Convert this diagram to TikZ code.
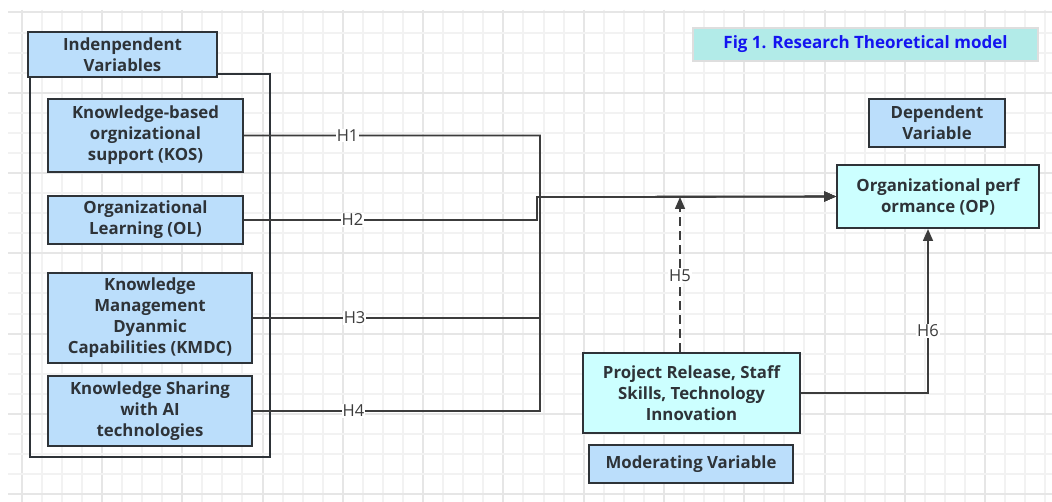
\documentclass[tikz,border=0pt]{standalone}
\usepackage{fontspec}
\setmainfont{Open Sans}
\usetikzlibrary{arrows.meta,calc}
\definecolor{gridminor}{HTML}{F2F2F2}
\definecolor{gridmajor}{HTML}{E6E6E6}
\definecolor{boxblue}{HTML}{BBDEFB}
\definecolor{boxcyan}{HTML}{CCFFFF}
\definecolor{titlefill}{HTML}{B2EBE8}
\definecolor{titletext}{HTML}{1414F0}
\definecolor{ink}{HTML}{2E3338}
\definecolor{edgecol}{HTML}{3C3C3C}
\tikzset{
  vbox/.style={draw=ink, line width=2pt, inner sep=0pt, align=center,
    text=ink, font=\fontsize{16.8}{21}\selectfont\bfseries},
  bluebox/.style={vbox, fill=boxblue},
  cyanbox/.style={vbox, fill=boxcyan},
  conn/.style={draw=edgecol, line width=1.6pt},
  arr/.style={conn, -{Triangle[length=12pt,width=10pt]}},
  lbl/.style={fill=white, inner sep=1pt, text=edgecol,
    font=\fontsize{16.5}{18}\selectfont}
}
\begin{document}
\begin{tikzpicture}[x=1pt,y=-1pt]
\useasboundingbox (0,0) rectangle (1052,502);
\fill[white] (0,0) rectangle (1052,502);
% grid
\foreach \k in {0,...,52}{
  \pgfmathsetmacro{\gx}{21.7+20.07*\k}
  \pgfmathtruncatemacro{\m}{mod(\k,4)}
  \ifnum\m=0
    \draw[gridmajor, line width=2pt] (\gx,10) -- (\gx,502);
  \else
    \draw[gridminor, line width=2pt] (\gx,10) -- (\gx,502);
  \fi
}
\foreach \k in {0,...,24}{
  \pgfmathsetmacro{\gy}{12.5+20.07*\k}
  \pgfmathtruncatemacro{\m}{mod(\k,4)}
  \ifnum\m=0
    \draw[gridmajor, line width=2pt] (8,\gy) -- (1052,\gy);
  \else
    \draw[gridminor, line width=2pt] (8,\gy) -- (1052,\gy);
  \fi
}
% container
\draw[ink, line width=2pt] (30,74) rectangle (270,457);
% left nodes
\node[bluebox, minimum width=189pt, minimum height=45pt] (hdr) at (122.5,54.5) {Indenpendent\\Variables};
\node[bluebox, minimum width=195pt, minimum height=73pt] (kos) at (145.5,135.5) {Knowledge-based\\orgnizational\\support (KOS)};
\node[bluebox, minimum width=195pt, minimum height=48pt] (ol) at (145.5,220) {Organizational\\Learning (OL)};
\node[bluebox, minimum width=204pt, minimum height=90pt] (kmdc) at (150,318) {Knowledge\\Management\\Dyanmic\\Capabilities (KMDC)};
\node[bluebox, minimum width=204pt, minimum height=70pt] (ks) at (150,411) {Knowledge Sharing\\with AI\\technologies};
% right nodes
\node[draw=black!13, line width=1.5pt, fill=titlefill, minimum width=345pt, minimum height=33pt, inner sep=0pt,
  text=titletext, font=\fontsize{17}{19}\selectfont\bfseries] (title) at (865.5,44.5) {Fig 1. Research Theoretical model};
\node[bluebox, minimum width=136pt, minimum height=48pt] (dep) at (937,123) {Dependent\\Variable};
\node[cyanbox, minimum width=202pt, minimum height=63pt] (op) at (938,196.5) {Organizational perf\\ormance (OP)};
\node[cyanbox, minimum width=217pt, minimum height=80pt] (mod) at (691.5,393) {Project Release, Staff\\Skills, Technology\\Innovation};
\node[bluebox, minimum width=204pt, minimum height=38pt] (modv) at (691,464) {Moderating Variable};
% bus coordinates
\coordinate (bus) at (540,197);
\coordinate (bus2) at (537,197);
\coordinate (h5) at (680,197);
\coordinate (h6) at ($(op.south)+(-10,0)$);
% connectors
\draw[arr] (kos.east) -- node[lbl,pos=0.35]{H1} (kos.east -| bus) -- (bus) -- (op.west);
\draw[arr] (ol.east) -- node[lbl,pos=0.37]{H2} (ol.east -| bus2) -- (bus2) -- (op.west);
\draw[arr] (kmdc.east) -- node[lbl,pos=0.354]{H3} (kmdc.east -| bus) -- (bus) -- (op.west);
\draw[arr] (ks.east) -- node[lbl,pos=0.35]{H4} (ks.east -| bus) -- (bus) -- (op.west);
\draw[arr, dash pattern=on 9pt off 5pt] (h5 |- mod.north) -- node[lbl,pos=0.49]{H5} (h5);
\draw[arr] (mod.east) -| node[lbl,pos=0.69]{H6} (h6);
\end{tikzpicture}
\end{document}
